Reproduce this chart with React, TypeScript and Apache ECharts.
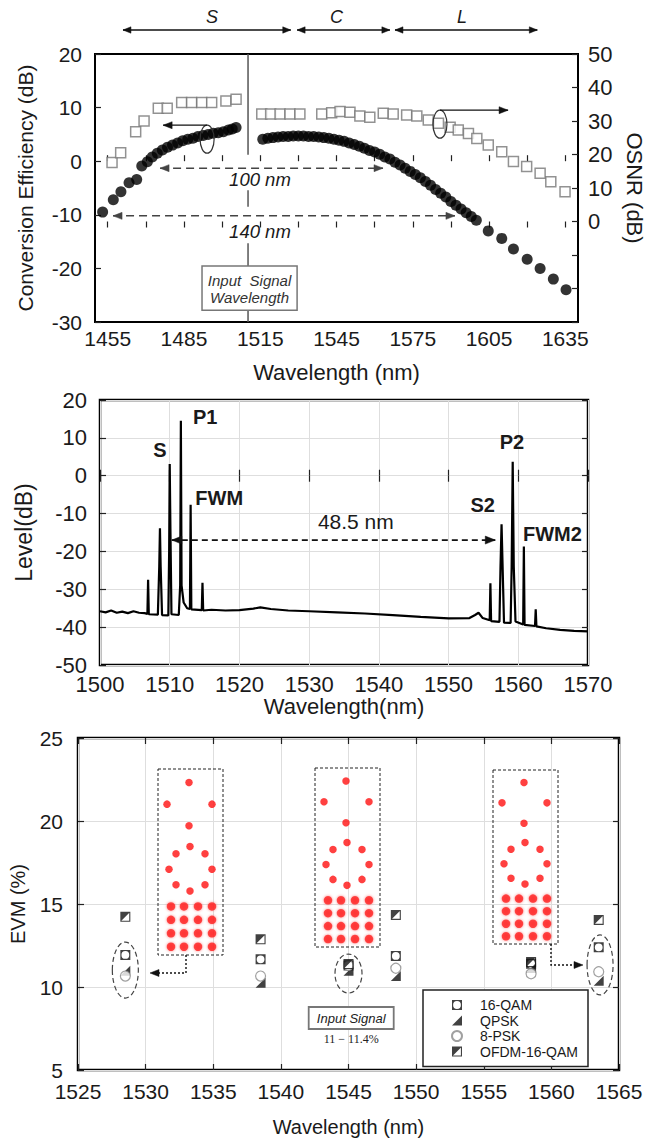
import React, { useEffect, useRef } from "react";
import * as echarts from "echarts";

// ---------------- Panel (a): conversion efficiency & OSNR ----------------
const ceWavelengths = [
  1453, 1457.2, 1460.2, 1463.4, 1466.4, 1468.4, 1470.6, 1472.5, 1474.5, 1476.5, 1478.5, 1480.5,
  1482.5, 1484.5, 1486.5, 1488.5, 1490.5, 1492.5, 1494.5, 1496.5, 1498.5, 1500.5, 1502.5, 1504,
  1505.5,
  1516, 1518, 1520, 1522, 1524, 1526, 1528, 1530, 1532, 1534, 1536, 1538, 1540, 1542, 1544, 1546,
  1548, 1550, 1552, 1554, 1556, 1558, 1560, 1562, 1564, 1566, 1568, 1570, 1572, 1574, 1576, 1578,
  1580, 1582, 1584, 1586, 1588, 1590, 1592, 1594, 1596, 1598, 1600,
  1604.7, 1610, 1614.6, 1620, 1625.1, 1630.3, 1635.3,
];
const ceValues = [
  -9.5, -7.2, -5.7, -4.0, -3.4, -0.9, -0.1, 0.8, 1.5, 2.1, 2.6, 3.0,
  3.4, 3.8, 4.1, 4.3, 4.6, 4.8, 5.0, 5.2, 5.3, 5.5, 5.8, 6.0,
  6.3,
  4.1, 4.3, 4.4, 4.5, 4.6, 4.6, 4.7, 4.7, 4.7, 4.6, 4.6, 4.5, 4.4, 4.3, 4.1, 3.9,
  3.7, 3.4, 3.1, 2.8, 2.4, 2.0, 1.7, 1.3, 0.8, 0.4, -0.2, -0.7, -1.3, -1.9, -2.5, -3.1,
  -3.8, -4.5, -5.3, -6.0, -6.7, -7.5, -8.2, -8.9, -9.6, -10.3, -11.0,
  -13.0, -14.4, -16.4, -18.3, -20.0, -22.0, -24.0,
];
const osnrWavelengths = [
  1456.7, 1460.1, 1466, 1469.3, 1474.9, 1478.4, 1484.1, 1488, 1492, 1495.9, 1501.5, 1505.5,
  1515.6, 1519.1, 1522.8, 1526.7, 1530.6, 1539.2, 1543.1, 1546.4, 1550.3, 1554.2, 1558.1,
  1563.4, 1567.3, 1572.6, 1576.6, 1581.1, 1585.1, 1589.7, 1592.9, 1596.9, 1600.2, 1604.7,
  1610, 1614.6, 1619.8, 1625.1, 1629.3, 1634.9,
];
const osnrValues = [
  17.6, 20.5, 26.8, 30, 33.8, 33.8, 35.5, 35.5, 35.5, 35.5, 36, 36.5,
  32.1, 32.1, 32.1, 32.1, 32.1, 32.1, 32.5, 32.8, 32.6, 31.5, 31.1,
  32.3, 32.1, 31.8, 31.5, 30.3, 29.3, 28.1, 27.3, 26.3, 24.8, 22.8,
  20.8, 17.9, 16.4, 14.4, 11.9, 8.9,
];
const topXLabels = [1455, 1485, 1515, 1545, 1575, 1605, 1635];
const topXTicks = [1455, 1470, 1485, 1500, 1515, 1530, 1545, 1560, 1575, 1590, 1605, 1620, 1635];
const bandNames = ["S", "C", "L"];
const bandStart = [1461, 1529.5, 1568];
const bandEnd = [1527, 1566, 1624];
const bandLabelAt = [1496, 1545, 1594.4];
const signalWavelength = 1510.2;
const spanLabels = ["100 nm", "140 nm"];
const spanStart = [1475.6, 1457.1];
const spanEnd = [1563.3, 1591.6];
const spanLevel = [-1.3, -10.2];
const spanLabelLevel = [-3.5, -13.15];

// ---------------- Panel (b): optical spectrum ----------------
const specWavelengths = [
  1500, 1500.8, 1501.6, 1502.4, 1503.2, 1504, 1504.8, 1505.6, 1506.4, 1506.8, 1506.9, 1507.0,
  1508.3, 1508.5, 1508.6, 1508.7, 1508.9, 1509.8, 1509.92, 1510, 1510.1, 1510.25,
  1511.3, 1511.5, 1511.6, 1511.7, 1512.0, 1512.5, 1512.9, 1513, 1513.1,
  1514.6, 1514.7, 1514.8, 1516, 1518, 1520, 1522, 1523, 1524.5, 1527, 1530, 1534, 1538,
  1542, 1546, 1550, 1553, 1553.8, 1554.3, 1554.9, 1555.9, 1556, 1556.1,
  1557.3, 1557.45, 1557.6, 1557.75, 1557.95, 1558.9, 1559.05, 1559.2, 1559.35, 1559.6,
  1560.7, 1560.8, 1560.9, 1562.4, 1562.5, 1562.6, 1564, 1566, 1568, 1570,
];
const specLevels = [
  -35.8, -36.1, -35.6, -36.2, -35.9, -36.3, -35.8, -36.2, -36.3, -36.5, -27.5, -36.6,
  -36.7, -24, -13.9, -24, -36.8, -36.9, -20, 3.1, -14, -36.6,
  -36.8, -29, 14.5, -29, -33.5, -35.0, -35.2, -7.7, -35.3,
  -35.5, -28.3, -35.6, -35.4, -35.6, -35.5, -35.1, -34.8, -35.2, -35.6, -35.8, -36.1, -36.4,
  -36.8, -37.3, -37.7, -37.6, -36.8, -36.2, -37.6, -38.2, -28.4, -38.4,
  -38.6, -24, -12.8, -24, -38.8, -38.9, -24, 3.7, -24, -38.5,
  -39.3, -18.7, -39.4, -39.7, -35.3, -39.8, -40.3, -40.7, -41, -41.1,
];
const peakLabels = ["S", "P1", "FWM", "S2", "P2", "FWM2"];
const peakLabelWavelength = [1508.6, 1515.1, 1517.1, 1554.9, 1559.1, 1564.9];
const peakLabelLevel = [6.8, 15.5, -5.9, -7.7, 8.9, -15.4];
const spacingLabel = "48.5 nm";
const spacingFrom = 1510.3;
const spacingTo = 1556.7;
const spacingLevel = -17;

// ---------------- Panel (c): EVM ----------------
const evmWavelengths = [1528.5, 1538.5, 1545, 1548.5, 1558.5, 1563.5];
const evm16QAM = [11.93, 11.67, 11.3, 11.87, 11.4, 12.39];
const evmQPSK = [10.98, 10.26, 10.98, 10.66, 11.15, 10.38];
const evm8PSK = [10.66, 10.66, 11.3, 11.13, 10.8, 10.92];
const evmOFDM = [14.23, 12.87, 11.38, 14.34, 11.5, 14.04];
const evmSeriesNames = ["16-QAM", "QPSK", "8-PSK", "OFDM-16-QAM"];

// constellation insets (inset units: 0..65 wide, 0..180 tall, y downwards)
const qpskI = [31, 9, 54, 31];
const qpskQ = [13, 34, 34, 55];
const psk8I = [32, 18, 47, 11, 54, 18, 47, 32];
const psk8Q = [75, 82, 82, 97, 97, 112, 112, 118];
const qam16I = [13, 26, 40, 54, 13, 26, 40, 54, 13, 26, 40, 54, 13, 26, 40, 54];
const qam16Q = [133, 133, 133, 133, 146, 146, 146, 146, 159, 159, 159, 159, 172, 172, 172, 172];

// ---------------- layout ----------------
const FONT = "Liberation Sans, Arial, sans-serif";
const INK = "#1a1a1a";
const insetBoxes = [
  { x: 158, y: 769, w: 65, h: 186 },
  { x: 315, y: 768, w: 65, h: 179 },
  { x: 493, y: 770, w: 65, h: 174 },
];

const SYM_16QAM = "path://M0,0H10V10H0Z M5,1.1A3.9,3.9 0 0 0 5,8.9A3.9,3.9 0 0 0 5,1.1Z";
const SYM_QPSK = "path://M10,0L10,10L0,10Z";
const SYM_OFDM = "path://M0,0H10V10H0Z M1.1,1.1V8.9H8.9V1.1Z M0,0H10L0,10Z";

const zip = (a: number[], b: number[]) => a.map((v, i) => [v, b[i]]);
const plain = (v: number) => String(v);

function arrow(
  x1: number, y1: number, x2: number, y2: number,
  o: { color?: string; width?: number; dash?: number[]; start?: boolean; end?: boolean; hl?: number; hw?: number }
) {
  const color = o.color || "#111";
  const hl = o.hl || 9;
  const hw = o.hw || 3.5;
  const els: any[] = [
    {
      type: "line",
      shape: { x1, y1, x2, y2 },
      style: { stroke: color, lineWidth: o.width || 1.5, lineDash: o.dash || null, fill: "none" },
      z: 60,
      silent: true,
    },
  ];
  const head = (tx: number, ty: number, fx: number, fy: number) => {
    const a = Math.atan2(ty - fy, tx - fx);
    const bx = tx - hl * Math.cos(a);
    const by = ty - hl * Math.sin(a);
    const nx = -Math.sin(a) * hw;
    const ny = Math.cos(a) * hw;
    return {
      type: "polygon",
      shape: { points: [[tx, ty], [bx + nx, by + ny], [bx - nx, by - ny]] },
      style: { fill: color, stroke: color, lineWidth: 0.5 },
      z: 61,
      silent: true,
    };
  };
  if (o.end) els.push(head(x2, y2, x1, y1));
  if (o.start) els.push(head(x1, y1, x2, y2));
  return els;
}

function txt(x: number, y: number, text: string, size: number, extra: any = {}) {
  return {
    type: "text",
    z: 62,
    silent: true,
    style: {
      text,
      x,
      y,
      fill: extra.fill || INK,
      fontSize: size,
      fontFamily: extra.fontFamily || FONT,
      fontStyle: extra.fontStyle || "normal",
      fontWeight: extra.fontWeight || "normal",
      align: "center",
      verticalAlign: "middle",
    },
  };
}

const axisLabelBase = { color: INK, fontFamily: FONT, formatter: plain };
const hiddenAxis = (gridIndex: number, max: number, inverse = false) => ({
  type: "value",
  gridIndex,
  min: 0,
  max,
  inverse,
  show: false,
});

function buildOption() {
  const frame = (left: number, top: number, width: number, height: number, bw: number) => ({
    left, top, width, height, show: true, borderColor: "#000", borderWidth: bw, backgroundColor: "transparent",
  });
  const grids: any[] = [
    frame(95, 54, 483, 268, 2),
    frame(100, 400, 488, 265, 2.5),
    frame(77, 738, 542, 332, 2.5),
    ...insetBoxes.map((b) => ({ left: b.x, top: b.y, width: b.w, height: b.h, show: false })),
  ];
  const tick = { show: true, inside: true, length: 6, lineStyle: { color: "#222", width: 1.2 } };
  const grey = { show: true, lineStyle: { color: "#dedede", width: 1 } };

  const xAxis: any[] = [
    {
      type: "value", gridIndex: 0, min: 1450, max: 1640, position: "bottom",
      axisLine: { show: false },
      axisTick: { ...tick, customValues: topXTicks },
      axisLabel: { ...axisLabelBase, fontSize: 21, margin: 6, customValues: topXLabels },
      splitLine: { show: false },
      name: "Wavelength (nm)", nameLocation: "middle", nameGap: 39,
      nameTextStyle: { fontSize: 22, color: INK, fontFamily: FONT },
    },
    {
      type: "value", gridIndex: 0, min: 1450, max: 1640, position: "top",
      axisLine: { show: false },
      axisTick: { ...tick, customValues: topXTicks },
      axisLabel: { show: false, customValues: topXLabels },
      splitLine: { show: false },
    },
    {
      type: "value", gridIndex: 1, min: 1500, max: 1570, interval: 10, position: "bottom",
      axisLine: { show: false }, axisTick: tick,
      axisLabel: { ...axisLabelBase, fontSize: 22, margin: 8 },
      splitLine: grey,
      name: "Wavelength(nm)", nameLocation: "middle", nameGap: 30,
      nameTextStyle: { fontSize: 22, color: INK, fontFamily: FONT },
    },
    {
      type: "value", gridIndex: 1, min: 1500, max: 1570, interval: 10, position: "top",
      axisLine: { show: false }, axisTick: tick, axisLabel: { show: false }, splitLine: { show: false },
    },
    {
      type: "value", gridIndex: 2, min: 1525, max: 1565, interval: 5, position: "bottom",
      axisLine: { show: false }, axisTick: tick,
      axisLabel: { ...axisLabelBase, fontSize: 21, margin: 11 },
      splitLine: grey,
      name: "Wavelength (nm)", nameLocation: "middle", nameGap: 47,
      nameTextStyle: { fontSize: 20, color: INK, fontFamily: FONT },
    },
    {
      type: "value", gridIndex: 2, min: 1525, max: 1565, interval: 5, position: "top",
      axisLine: { show: false }, axisTick: tick, axisLabel: { show: false }, splitLine: { show: false },
    },
    hiddenAxis(3, 65), hiddenAxis(4, 65), hiddenAxis(5, 65),
  ];

  const yAxis: any[] = [
    {
      type: "value", gridIndex: 0, min: -30, max: 20, interval: 10, position: "left",
      axisLine: { show: false }, axisTick: tick,
      axisLabel: { ...axisLabelBase, fontSize: 21, margin: 13 },
      splitLine: { show: false },
      name: "Conversion Efficiency (dB)", nameLocation: "middle", nameGap: 59, nameRotate: 90,
      nameTextStyle: { fontSize: 21, color: INK, fontFamily: FONT },
    },
    {
      type: "value", gridIndex: 0, min: -30, max: 50, interval: 10, position: "right",
      axisLine: { show: false }, axisTick: tick,
      axisLabel: { ...axisLabelBase, fontSize: 22, margin: 10, formatter: (v: number) => (v < 0 ? "" : String(v)) },
      splitLine: { show: false },
      name: "OSNR (dB)", nameLocation: "middle", nameGap: 43, nameRotate: -90,
      nameTextStyle: { fontSize: 22, color: INK, fontFamily: FONT },
    },
    {
      type: "value", gridIndex: 1, min: -50, max: 20, interval: 10, position: "left",
      axisLine: { show: false }, axisTick: tick,
      axisLabel: { ...axisLabelBase, fontSize: 22, margin: 13 },
      splitLine: grey,
      name: "Level(dB)", nameLocation: "middle", nameGap: 65, nameRotate: 90,
      nameTextStyle: { fontSize: 23, color: INK, fontFamily: FONT },
    },
    {
      type: "value", gridIndex: 1, min: -50, max: 20, interval: 10, position: "right",
      axisLine: { show: false }, axisTick: tick, axisLabel: { show: false }, splitLine: { show: false },
    },
    {
      type: "value", gridIndex: 2, min: 5, max: 25, interval: 5, position: "left",
      axisLine: { show: false }, axisTick: tick,
      axisLabel: { ...axisLabelBase, fontSize: 21, margin: 15 },
      splitLine: grey,
      name: "EVM (%)", nameLocation: "middle", nameGap: 50, nameRotate: 90,
      nameTextStyle: { fontSize: 20, color: INK, fontFamily: FONT },
    },
    {
      type: "value", gridIndex: 2, min: 5, max: 25, interval: 5, position: "right",
      axisLine: { show: false }, axisTick: tick, axisLabel: { show: false }, splitLine: { show: false },
    },
    hiddenAxis(3, 180, true), hiddenAxis(4, 180, true), hiddenAxis(5, 180, true),
  ];

  const series: any[] = [
    {
      type: "scatter", xAxisIndex: 0, yAxisIndex: 1, data: zip(osnrWavelengths, osnrValues),
      symbol: "rect", symbolSize: 10, z: 3,
      itemStyle: { color: "#fff", borderColor: "#777", borderWidth: 1.5 },
    },
    {
      type: "scatter", xAxisIndex: 0, yAxisIndex: 0, data: zip(ceWavelengths, ceValues),
      symbol: "circle", symbolSize: 11, z: 4, itemStyle: { color: "#000" },
    },
    {
      type: "line", xAxisIndex: 2, yAxisIndex: 2, data: zip(specWavelengths, specLevels),
      showSymbol: false, symbol: "none", lineStyle: { color: "#000", width: 2.2 }, z: 3,
    },
    {
      name: evmSeriesNames[0], type: "scatter", xAxisIndex: 4, yAxisIndex: 4,
      data: zip(evmWavelengths, evm16QAM), symbol: SYM_16QAM, symbolKeepAspect: true, symbolSize: 10, z: 3,
      itemStyle: { color: "#111" },
    },
    {
      name: evmSeriesNames[1], type: "scatter", xAxisIndex: 4, yAxisIndex: 4,
      data: zip(evmWavelengths, evmQPSK), symbol: SYM_QPSK, symbolKeepAspect: true, symbolSize: 10, z: 4,
      itemStyle: { color: "#111" },
    },
    {
      name: evmSeriesNames[2], type: "scatter", xAxisIndex: 4, yAxisIndex: 4,
      data: zip(evmWavelengths, evm8PSK), symbol: "circle", symbolSize: 10, z: 5,
      itemStyle: { color: "#fff", borderColor: "#888", borderWidth: 1.2 },
    },
    {
      name: evmSeriesNames[3], type: "scatter", xAxisIndex: 4, yAxisIndex: 4,
      data: zip(evmWavelengths, evmOFDM), symbol: SYM_OFDM, symbolKeepAspect: true, symbolSize: 10, z: 6,
      itemStyle: { color: "#111" },
    },
  ];
  insetBoxes.forEach((_, k) => {
    series.push({
      type: "scatter", xAxisIndex: 6 + k, yAxisIndex: 6 + k,
      data: [...zip(qpskI, qpskQ), ...zip(psk8I, psk8Q)],
      symbol: "circle", symbolSize: 7.5, itemStyle: { color: "#ff1010" }, z: 70,
    });
    series.push({
      type: "scatter", xAxisIndex: 6 + k, yAxisIndex: 6 + k,
      data: zip(qam16I, qam16Q),
      symbol: "circle", symbolSize: 8.5, itemStyle: { color: "#ff2020", shadowBlur: 3, shadowColor: "rgba(255,0,0,0.6)" }, z: 70,
    });
  });

  return {
    animation: false,
    backgroundColor: "#fff",
    textStyle: { fontFamily: FONT },
    grid: grids,
    xAxis,
    yAxis,
    series,
    legend: {
      show: true,
      data: evmSeriesNames,
      orient: "vertical",
      left: 423,
      top: 990,
      itemWidth: 10,
      itemHeight: 10,
      itemGap: 1.5,
      padding: [8, 10, 8, 28],
      borderColor: "#222",
      borderWidth: 1.5,
      backgroundColor: "#fff",
      selectedMode: false,
      textStyle: { fontSize: 14, lineHeight: 14, color: INK, fontFamily: FONT, padding: [0, 0, 0, 13] },
      z: 20,
    },
  };
}

function buildGraphics(chart: any) {
  const P = (xi: number, yi: number, x: number, y: number) =>
    chart.convertToPixel({ xAxisIndex: xi, yAxisIndex: yi }, [x, y]) as number[];
  const pa = (x: number, y: number) => P(0, 0, x, y);
  const pb = (x: number, y: number) => P(2, 2, x, y);
  const pc = (x: number, y: number) => P(4, 4, x, y);
  const els: any[] = [];

  // --- (a) band arrows above the frame
  bandNames.forEach((n, i) => {
    const x1 = pa(bandStart[i], 0)[0];
    const x2 = pa(bandEnd[i], 0)[0];
    els.push(...arrow(x1, 30, x2, 30, { start: true, end: true, width: 1.6, hl: 8, hw: 3.2 }));
    els.push(txt(pa(bandLabelAt[i], 0)[0], 17, n, 18, { fontStyle: "italic" }));
  });
  // --- (a) input signal line with gaps
  const sigSegs = [[20, 1.2], [-5.4, -8.5], [-15.3, -19.6], [-27.8, -30]];
  sigSegs.forEach(([a, b]) => {
    const p1 = pa(signalWavelength, a);
    const p2 = pa(signalWavelength, b);
    els.push({ type: "line", shape: { x1: p1[0], y1: p1[1], x2: p2[0], y2: p2[1] }, style: { stroke: "#555", lineWidth: 1.5 }, z: 59, silent: true });
  });
  const bx1 = pa(1492.1, -19.55);
  const bx2 = pa(1529.5, -27.8);
  els.push({
    type: "rect", z: 60, silent: true,
    shape: { x: bx1[0], y: bx1[1], width: bx2[0] - bx1[0], height: bx2[1] - bx1[1] },
    style: { fill: "#fff", stroke: "#777", lineWidth: 1.5 },
  });
  const l1 = pa(1510.8, -22.2);
  const l2 = pa(1510.8, -25.5);
  els.push(txt(l1[0], l1[1], "Input  Signal", 15, { fontStyle: "italic", fill: "#333" }));
  els.push(txt(l2[0], l2[1], "Wavelength", 15, { fontStyle: "italic", fill: "#333" }));
  // --- (a) span arrows
  spanLabels.forEach((s, i) => {
    const p1 = pa(spanStart[i], spanLevel[i]);
    const p2 = pa(spanEnd[i], spanLevel[i]);
    els.push(...arrow(p1[0], p1[1], p2[0], p2[1], { start: true, end: true, dash: [8, 5], width: 1.5, color: "#444", hl: 9, hw: 3.5 }));
    const t = pa(1514.9, spanLabelLevel[i]);
    els.push(txt(t[0], t[1], s, 18.5, { fontStyle: "italic" }));
  });
  // --- (a) axis indicator ellipses
  const e1 = pa(1494.1, 4.1);
  els.push({ type: "ellipse", z: 60, silent: true, shape: { cx: e1[0], cy: e1[1], rx: 7, ry: 14 }, style: { fill: "none", stroke: "#333", lineWidth: 1.2 } });
  const a1 = pa(1476.8, 0)[0];
  els.push(...arrow(e1[0], e1[1] - 14, a1, e1[1] - 14, { end: true, width: 1.2, hl: 9, hw: 3.5 }));
  const e2 = pa(1585.7, 6.9);
  els.push({ type: "ellipse", z: 60, silent: true, shape: { cx: e2[0], cy: e2[1], rx: 7, ry: 14 }, style: { fill: "none", stroke: "#333", lineWidth: 1.2 } });
  const a2 = pa(1612.5, 0)[0];
  els.push(...arrow(e2[0], e2[1] - 14, a2, e2[1] - 14, { end: true, width: 1.2, hl: 9, hw: 3.5 }));

  // --- (b) labels & spacing arrow
  peakLabels.forEach((s, i) => {
    const p = pb(peakLabelWavelength[i], peakLabelLevel[i]);
    els.push(txt(p[0], p[1], s, 20, { fontWeight: "bold" }));
  });
  const s1 = pb(spacingFrom, spacingLevel);
  const s2 = pb(spacingTo, spacingLevel);
  els.push(...arrow(s1[0], s1[1], s2[0], s2[1], { start: true, end: true, dash: [6, 4], width: 1.8, hl: 10, hw: 4 }));
  const sl = pb(1536.7, -12.2);
  els.push(txt(sl[0], sl[1], spacingLabel, 21));

  // --- (c) constellation frames (outline only, dots are series)
  insetBoxes.forEach((b) => {
    els.push({
      type: "rect", z: 58, silent: true,
      shape: { x: b.x, y: b.y, width: b.w, height: b.h },
      style: { fill: "none", stroke: "#222", lineWidth: 1, lineDash: [3, 2] },
    });
  });
  // dashed ellipses around groups
  const ellC = [
    { x: 1528.5, y: 11.02, rx: 13, ry: 28 },
    { x: 1545.0, y: 10.81, rx: 13.5, ry: 19.5 },
    { x: 1563.6, y: 11.33, rx: 13, ry: 30 },
  ];
  ellC.forEach((e) => {
    const c = pc(e.x, e.y);
    els.push({ type: "ellipse", z: 60, silent: true, shape: { cx: c[0], cy: c[1], rx: e.rx, ry: e.ry }, style: { fill: "none", stroke: "#444", lineWidth: 1.2, lineDash: [5, 3] } });
  });
  // dotted connectors from insets to groups
  const b1 = insetBoxes[0];
  const cx1 = b1.x + 28;
  els.push({ type: "polyline", z: 60, silent: true, shape: { points: [[cx1, b1.y + b1.h], [cx1, 973], [158, 973]] }, style: { fill: "none", stroke: "#111", lineWidth: 1.4, lineDash: [2, 2] } });
  els.push(...arrow(160, 973, 150, 973, { end: true, width: 0.1, hl: 9, hw: 3.5 }));
  const b3 = insetBoxes[2];
  const cx3 = b3.x + 58;
  els.push({ type: "polyline", z: 60, silent: true, shape: { points: [[cx3, b3.y + b3.h], [cx3, 965], [575, 965]] }, style: { fill: "none", stroke: "#111", lineWidth: 1.4, lineDash: [2, 2] } });
  els.push(...arrow(573, 965, 583, 965, { end: true, width: 0.1, hl: 9, hw: 3.5 }));
  // input signal note
  const ix = pc(1545.2, 8)[0];
  els.push({
    type: "rect", z: 60, silent: true,
    shape: { x: ix - 42.5, y: 1007, width: 85, height: 22 },
    style: { fill: "#fff", stroke: "#777", lineWidth: 1.8 },
  });
  els.push(txt(ix, 1018, "Input Signal", 13, { fontStyle: "italic", fill: "#222" }));
  els.push(txt(ix, 1039, "11 \u2212 11.4%", 12, { fontFamily: "Liberation Serif, serif", fill: "#222" }));

  return els;
}

export default function App() {
  const ref = useRef<HTMLDivElement>(null);
  useEffect(() => {
    document.body.style.margin = "0";
    if (!ref.current) return;
    const chart = echarts.init(ref.current, undefined, { renderer: "svg" });
    chart.setOption(buildOption() as any);
    chart.setOption({ graphic: { elements: buildGraphics(chart) } } as any);
    return () => chart.dispose();
  }, []);
  return <div ref={ref} style={{ width: 657, height: 1140 }} />;
}
